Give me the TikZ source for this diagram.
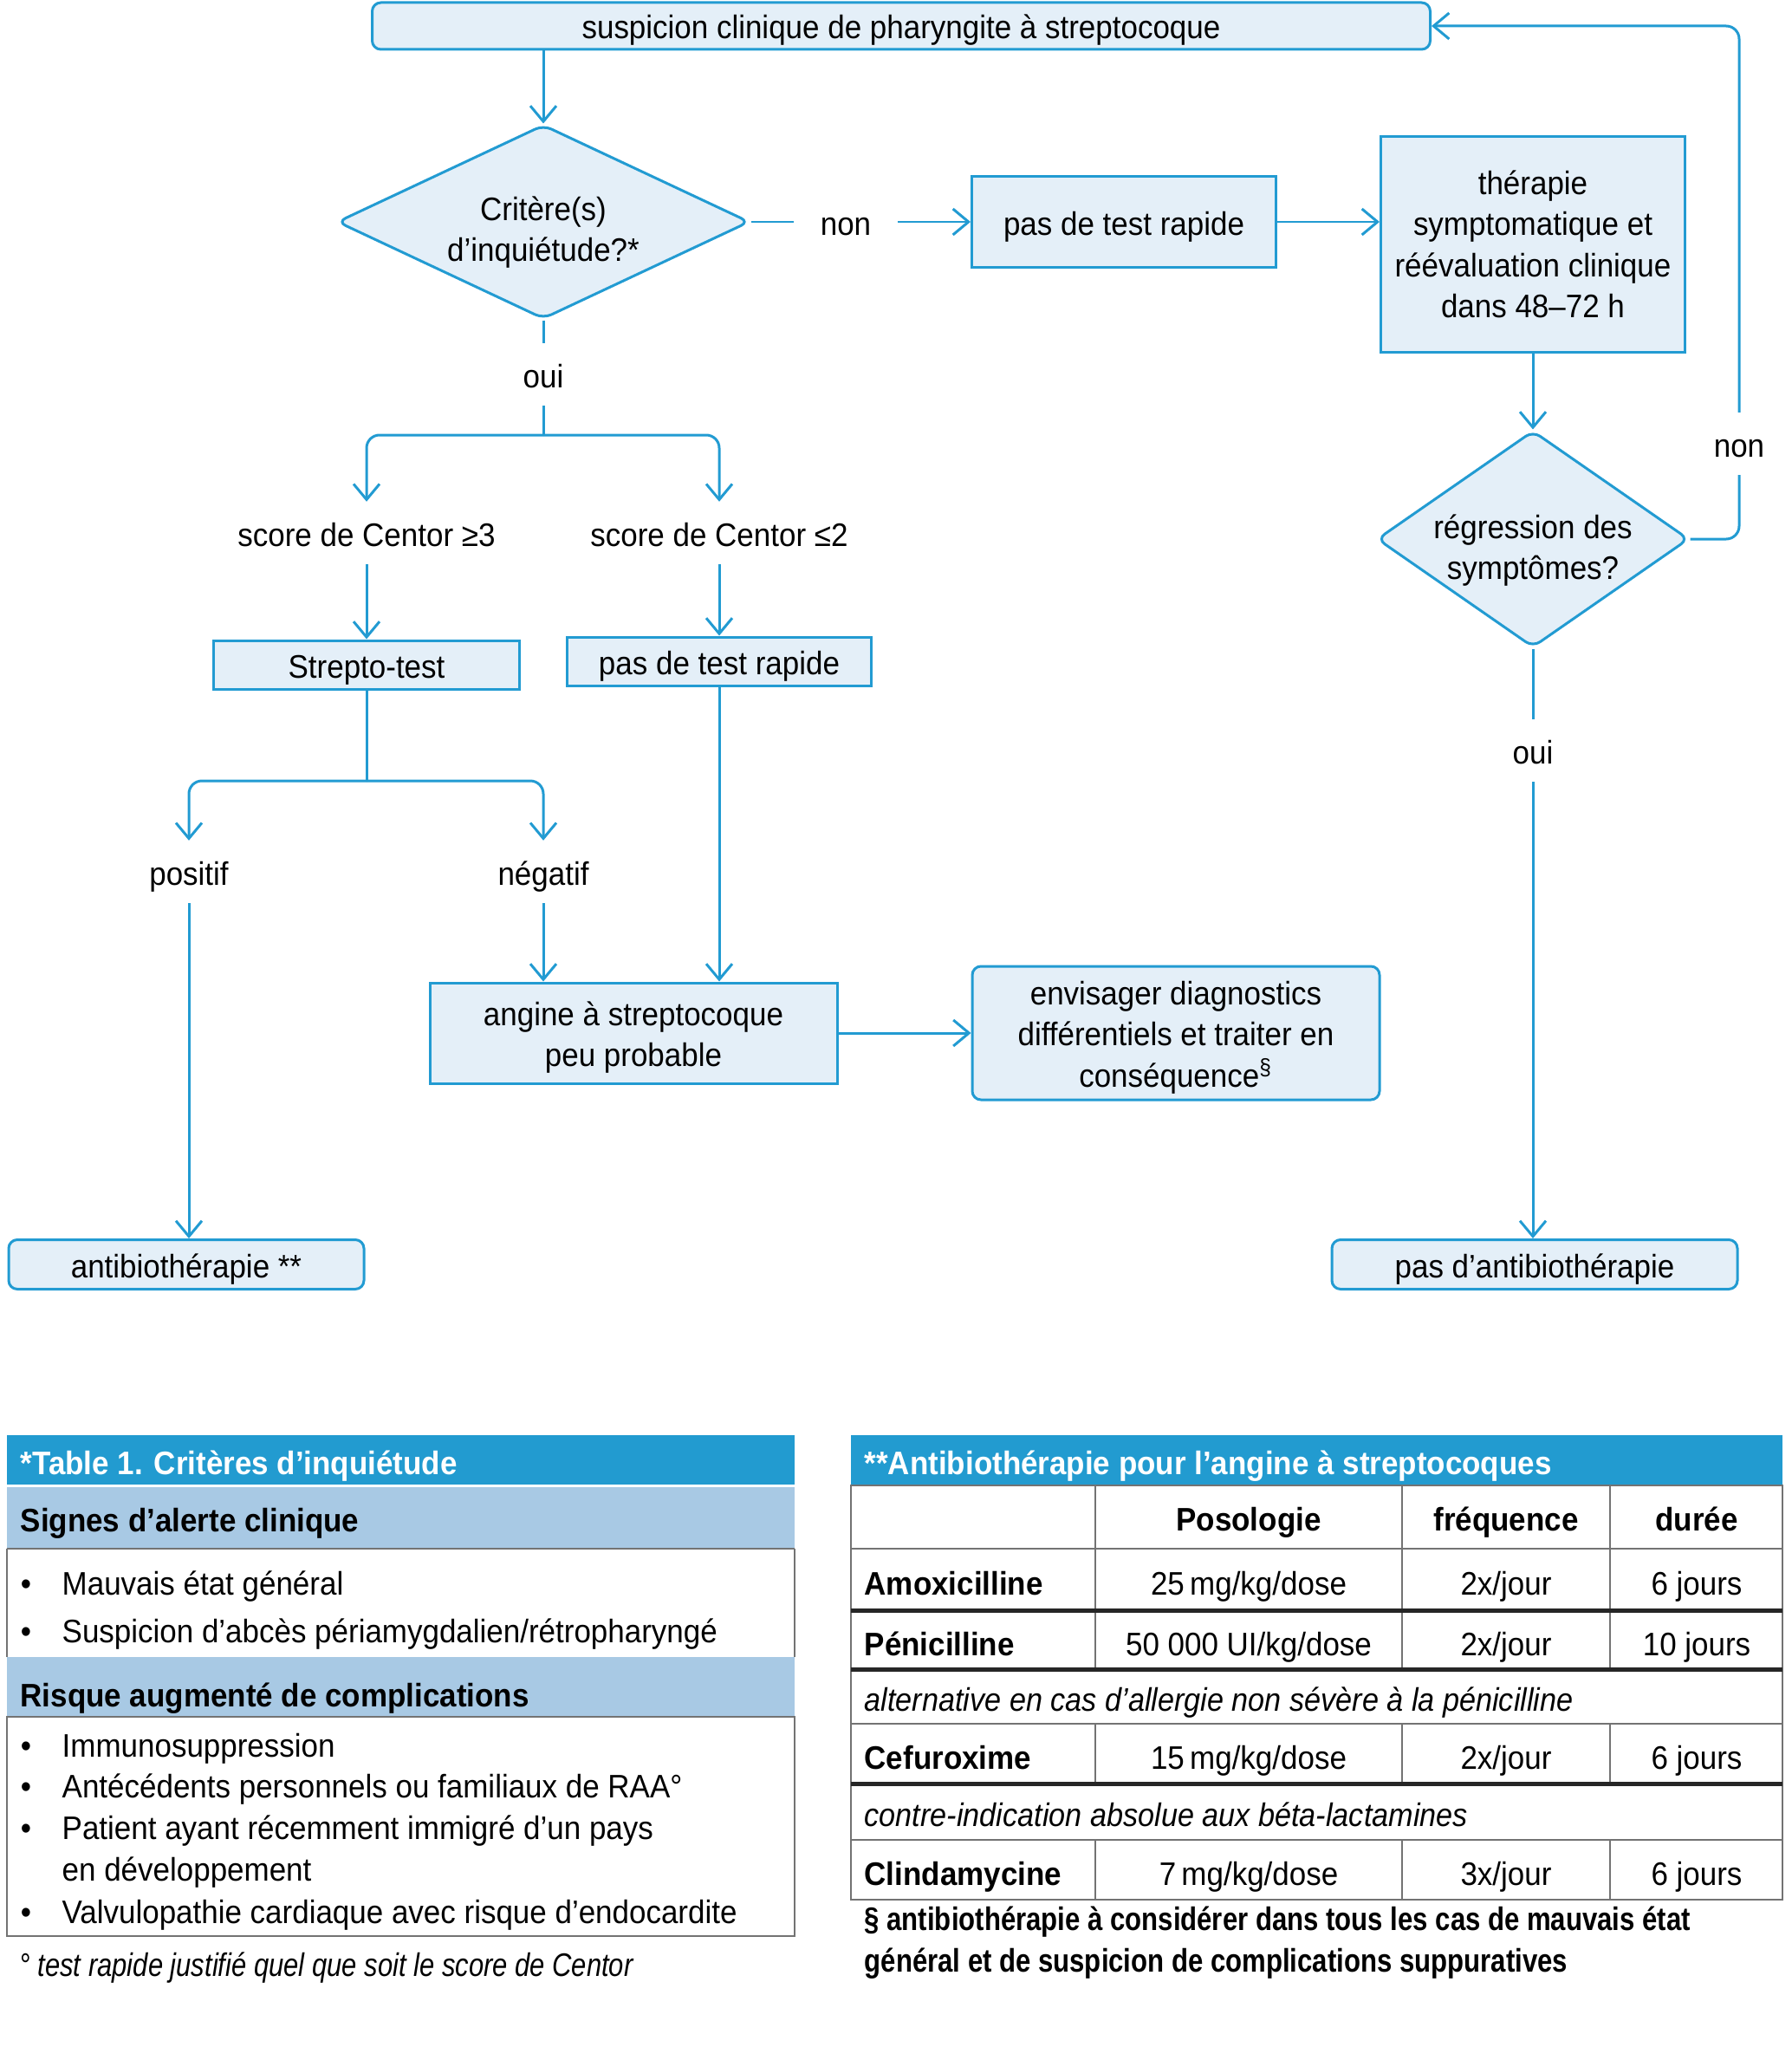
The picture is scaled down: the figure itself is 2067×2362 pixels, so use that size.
\documentclass[tikz,border=0pt]{standalone}
\usepackage{fontspec}
\setmainfont{Liberation Sans}[FakeStretch=0.93,ItalicFeatures={FakeStretch=0.91}]
\usetikzlibrary{shapes.geometric,arrows.meta}
\definecolor{flowblue}{RGB}{34,155,210}
\definecolor{boxfill}{RGB}{228,239,248}
\definecolor{headblue}{RGB}{34,155,208}
\definecolor{subblue}{RGB}{168,201,228}
\newcommand\flowsize{\fontsize{10.7pt}{13.5pt}\selectfont}
\newcommand\lowstrut{\rule{0pt}{3.75mm}}
\begin{document}
\begin{tikzpicture}[x=0.1mm,y=-0.1mm,font=\flowsize,
    box/.style={draw=flowblue,fill=boxfill,line width=0.3mm,align=center,inner sep=0pt},
    sbox/.style={box,text height=3.2mm,text depth=0.2mm},
    rbox/.style={sbox,rounded corners=1mm},
    decision/.style={box,diamond,rounded corners=1mm},
    lbl/.style={inner xsep=3mm,inner ysep=1.8mm,text height=3.3mm,text depth=0.2mm},
    conn/.style={draw=flowblue,line width=0.3mm,rounded corners=1.5mm},
    arr/.style={conn,-{Straight Barb[length=1.8mm,width=3mm]}},
    cell/.style={text height=3.4mm,text depth=0.1mm,inner sep=0pt},
    tline/.style={draw=black!55,line width=0.25mm},
    tthick/.style={draw=black!85,line width=0.5mm}]
    \useasboundingbox (0,0) rectangle (2067,2362);
    % flowchart
    \node[rbox,minimum width=122.1mm,minimum height=5.4mm] (susp) at (1040,30) {suspicion clinique de pharyngite à streptocoque};
    \node[decision,minimum width=47.6mm,minimum height=22.4mm,
        label={[align=center,yshift=-1.2mm]center:Critère(s)\\d’inquiétude?*}] (crit) at (627,256) {};
    \node[lbl] (non1) at (976,256) {non};
    \node[sbox,minimum width=35.1mm,minimum height=10.5mm] (pdtr1) at (1297,256) {pas de test rapide};
    \node[box,minimum width=35.1mm,minimum height=24.9mm] (ther) at (1769,282) {thérapie\\symptomatique et\\réévaluation clinique\\dans 48–72 h};
    \node[decision,minimum width=36mm,minimum height=25mm,
        label={[align=center,yshift=-1.3mm]center:régression des\\symptômes?}] (regr) at (1769,622) {};
    \node[lbl] (non2) at (2007,512) {non};
    \node[lbl] (oui2) at (1769,866) {oui};
    \node[rbox,minimum width=46.8mm,minimum height=5.7mm] (noab) at (1771,1459) {pas d’antibiothérapie};
    \node[lbl] (oui1) at (627,432) {oui};
    \coordinate (split1) at (627,502);
    \node[lbl] (cen3) at (423,615) {score de Centor ≥3};
    \node[lbl] (cen2) at (830,615) {score de Centor ≤2};
    \node[sbox,minimum width=35.3mm,minimum height=5.6mm] (strep) at (423,767) {Strepto-test};
    \node[sbox,minimum width=35.1mm,minimum height=5.6mm] (pdtr2) at (830,763) {pas de test rapide};
    \coordinate (split2) at (423,901);
    \node[lbl] (pos) at (218,1006) {positif};
    \node[lbl] (neg) at (627,1006) {négatif};
    \node[rbox,minimum width=41mm,minimum height=5.7mm] (antib) at (215,1459) {antibiothérapie **};
    \node[box,minimum width=47mm,minimum height=11.6mm] (ang) at (731,1192) {\lowstrut angine à streptocoque\\peu probable};
    \node[box,rounded corners=1mm,minimum width=47mm,minimum height=15.4mm] (env) at (1357,1192) {\lowstrut envisager diagnostics\\différentiels et traiter en\\conséquence\textsuperscript{§}};
    % connectors
    \draw[arr] (crit.north |- susp.south) -- (crit.north);
    \draw[conn] (crit.east) -- (non1);
    \draw[arr] (non1) -- (pdtr1);
    \draw[arr] (pdtr1.east) -- (pdtr1.east -| ther.west);
    \draw[arr] (ther) -- (regr);
    \draw[conn] (regr.east) -| (non2);
    \draw[arr] (non2) |- (susp.east);
    \draw[conn] (regr.south) -- (oui2);
    \draw[arr] (oui2) -- (oui2 |- noab.north);
    \draw[conn] (crit.south) -- (oui1);
    \draw[conn] (oui1) -- (split1);
    \draw[arr] (split1) -| (cen3);
    \draw[arr] (split1) -| (cen2);
    \draw[arr] (cen3) -- (strep);
    \draw[arr] (cen2) -- (pdtr2);
    \draw[conn] (strep) -- (split2);
    \draw[arr] (split2) -| (pos);
    \draw[arr] (split2) -| (neg);
    \draw[arr] (pos) -- (pos |- antib.north);
    \draw[arr] (neg) -- (neg |- ang.north);
    \draw[arr] (pdtr2) -- (pdtr2 |- ang.north);
    \draw[arr] (ang) -- (env);
    % table 1
    \fill[headblue] (8,1656) rectangle (917,1713);
    \fill[subblue] (8,1716) rectangle (917,1787);
    \fill[subblue] (8,1912) rectangle (917,1981);
    \draw[tline] (8,1787) -- (917,1787) (8,1787) -- (8,1912) (917,1787) -- (917,1912);
    \draw[tline] (8,1981) rectangle (917,2234);
    \node[cell,anchor=west,text=white,font=\flowsize\bfseries] (t1) at (23,1685) {*Table 1. Critères d’inquiétude};
    \node[cell,anchor=west,font=\flowsize\bfseries] (t1a) at (23,1751) {Signes d’alerte clinique};
    \node[cell,anchor=west,font=\flowsize\bfseries] (t1b) at (23,1953) {Risque augmenté de complications};
    \foreach \y/\t in {1824/Mauvais état général, 1879/{Suspicion d’abcès périamygdalien/rétropharyngé},
        2011/Immunosuppression, 2058/Antécédents personnels ou familiaux de RAA°,
        2106/Patient ayant récemment immigré d’un pays, 2203/Valvulopathie cardiaque avec risque d’endocardite}{
        \node[cell] (b\y) at (30,\y) {•};
        \node[cell,anchor=west] (i\y) at (71,\y) {\t};
    }
    \node[cell,anchor=west] (i2154) at (71,2154) {en développement};
    \node[cell,anchor=west,font=\flowsize\itshape] (fn1) at (22,2264) {\scalebox{0.905}[1]{° test rapide justifié quel que soit le score de Centor}};
    % table 2
    \fill[headblue] (982,1656) rectangle (2057,1714);
    \node[cell,anchor=west,text=white,font=\flowsize\bfseries] (t2) at (997,1685) {**Antibiothérapie pour l’angine à streptocoques};
    \draw[tline] (982,1714) rectangle (2057,2192);
    \foreach \x in {1264,1618,1858}
        \draw[tline] (\x,1714) -- (\x,1926) (\x,1989) -- (\x,2058) (\x,2123) -- (\x,2192);
    \foreach \y in {1787,1989,2123}
        \draw[tline] (982,\y) -- (2057,\y);
    \foreach \y in {1858,1926,2058}
        \draw[tthick] (982,\y) -- (2057,\y);
    \node[cell,font=\flowsize\bfseries] (hp) at (1441,1750) {Posologie};
    \node[cell,font=\flowsize\bfseries] (hf) at (1738,1750) {fréquence};
    \node[cell,font=\flowsize\bfseries] (hd) at (1958,1750) {durée};
    \foreach \y/\n/\p/\f/\d in {1824/Amoxicilline/{25\,mg/kg/dose}/{2x/jour}/6 jours,
        1894/Pénicilline/{50 000 UI/kg/dose}/{2x/jour}/10 jours,
        2025/Cefuroxime/{15\,mg/kg/dose}/{2x/jour}/6 jours,
        2159/Clindamycine/{7\,mg/kg/dose}/{3x/jour}/6 jours}{
        \node[cell,anchor=west,font=\flowsize\bfseries] (n\y) at (997,\y) {\n};
        \node[cell] (p\y) at (1441,\y) {\p};
        \node[cell] (f\y) at (1738,\y) {\f};
        \node[cell] (d\y) at (1958,\y) {\d};
    }
    \node[cell,anchor=west,font=\flowsize\itshape] (alt) at (997,1958) {alternative en cas d’allergie non sévère à la pénicilline};
    \node[cell,anchor=west,font=\flowsize\itshape] (ci) at (997,2091) {contre-indication absolue aux béta-lactamines};
    \node[cell,anchor=west,font=\flowsize\bfseries] (fn2) at (997,2211) {\scalebox{0.89}[1]{§ antibiothérapie à considérer dans tous les cas de mauvais état}};
    \node[cell,anchor=west,font=\flowsize\bfseries] (fn3) at (997,2259) {\scalebox{0.89}[1]{général et de suspicion de complications suppuratives}};
\end{tikzpicture}
\end{document}
